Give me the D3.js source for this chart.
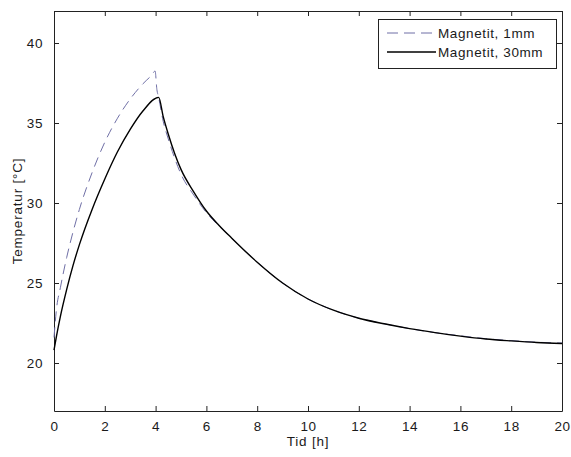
<!DOCTYPE html>
<html>
<head>
<meta charset="utf-8">
<script src="https://cdn.jsdelivr.net/npm/d3@7"></script>
<style>
  html, body { margin: 0; padding: 0; background: #fff; }
  svg { display: block; }
  text { font-family: "Liberation Sans", Arial, Helvetica, sans-serif; fill: #1a1a1a; }
</style>
</head>
<body>
<svg id="chart" width="571" height="457"></svg>
<script>
// Temperature over time for two magnetite samples
const seriesNames = ["Magnetit, 1mm", "Magnetit, 30mm"];

const time1mm = [0, 0.1, 0.25, 0.5, 0.75, 1.0, 1.5, 2.0, 2.5, 3.0, 3.5, 3.85, 3.98, 4.05, 4.12, 4.3, 4.5, 4.75, 5.0, 5.5, 6.0, 6.5, 7.0, 8.0, 9.0, 10.0, 11.0, 12.0, 13.0, 14.0, 15.0, 16.0, 17.0, 18.0, 19.0, 20.0];
const temp1mm = [21.6, 23.4, 24.7, 26.6, 28.2, 29.6, 31.9, 33.8, 35.3, 36.5, 37.45, 38.0, 38.25, 37.1, 36.6, 35.1, 34.0, 32.8, 31.8, 30.5, 29.4, 28.55, 27.8, 26.3, 25.0, 24.0, 23.3, 22.8, 22.45, 22.15, 21.9, 21.7, 21.52, 21.4, 21.3, 21.25];

const time30mm = [0, 0.1, 0.25, 0.5, 0.75, 1.0, 1.5, 2.0, 2.5, 3.0, 3.5, 4.12, 4.3, 4.5, 4.75, 5.0, 5.5, 6.0, 6.5, 7.0, 8.0, 9.0, 10.0, 11.0, 12.0, 13.0, 14.0, 15.0, 16.0, 17.0, 18.0, 19.0, 20.0];
const temp30mm = [20.8, 21.7, 22.9, 24.6, 26.1, 27.4, 29.6, 31.5, 33.2, 34.6, 35.75, 36.6, 35.4, 34.3, 33.1, 32.1, 30.7, 29.5, 28.6, 27.8, 26.3, 25.0, 24.0, 23.3, 22.8, 22.45, 22.15, 21.9, 21.68, 21.5, 21.38, 21.28, 21.22];

const xTicks = [0, 2, 4, 6, 8, 10, 12, 14, 16, 18, 20];
const yTicks = [20, 25, 30, 35, 40];

const margin = { left: 54, top: 11, right: 9, bottom: 46 };
const W = 571, H = 457;
const iw = W - margin.left - margin.right;
const ih = H - margin.top - margin.bottom;

const svg = d3.select("#chart");
const g = svg.append("g").attr("transform", `translate(${margin.left},${margin.top})`);

const x = d3.scaleLinear().domain([0, 20]).range([0, iw]);
const y = d3.scaleLinear().domain([17, 42]).range([ih, 0]);

const FONT = "13.5px";

// axes: ticks point inward, mirrored on top/right
const axisStyle = sel => {
  sel.select(".domain").attr("stroke", "#222");
  sel.selectAll(".tick line").attr("stroke", "#222");
  sel.selectAll(".tick text").style("font-size", FONT).style("letter-spacing", "0.6px").attr("fill", "#1a1a1a");
};

g.append("g").attr("transform", `translate(0,${ih})`)
  .call(d3.axisBottom(x).tickValues(xTicks).tickSizeInner(-5).tickSizeOuter(0).tickPadding(10).tickFormat(d3.format("d")))
  .call(axisStyle);
g.append("g")
  .call(d3.axisTop(x).tickValues(xTicks).tickSizeInner(-5).tickSizeOuter(0).tickFormat(""))
  .call(axisStyle);
g.append("g")
  .call(d3.axisLeft(y).tickValues(yTicks).tickSizeInner(-5).tickSizeOuter(0).tickPadding(11).tickFormat(d3.format("d")))
  .call(axisStyle);
g.append("g").attr("transform", `translate(${iw},0)`)
  .call(d3.axisRight(y).tickValues(yTicks).tickSizeInner(-5).tickSizeOuter(0).tickFormat(""))
  .call(axisStyle);

// curves
const line = d3.line().x(d => x(d[0])).y(d => y(d[1])).curve(d3.curveMonotoneX);
const data1 = time1mm.map((t, i) => [t, temp1mm[i]]);
const data30 = time30mm.map((t, i) => [t, temp30mm[i]]);

const dashColor = "#6f6fa6";
g.append("path").datum(data1)
  .attr("fill", "none").attr("stroke", dashColor).attr("stroke-width", 1)
  .attr("stroke-dasharray", "10,6").attr("d", line);
g.append("path").datum(data30)
  .attr("fill", "none").attr("stroke", "#000").attr("stroke-width", 1.4)
  .attr("d", line);

// labels
svg.append("text")
  .attr("x", margin.left + iw / 2).attr("y", 446)
  .attr("text-anchor", "middle")
  .style("font-size", FONT).style("letter-spacing", "0.8px")
  .text("Tid [h]");
svg.append("text")
  .attr("transform", `translate(22,${margin.top + ih / 2}) rotate(-90)`)
  .attr("text-anchor", "middle")
  .style("font-size", FONT).style("letter-spacing", "0.8px")
  .text("Temperatur [°C]");

// legend
const lg = svg.append("g");
lg.append("rect").attr("x", 378.5).attr("y", 19.5).attr("width", 178).attr("height", 49)
  .attr("fill", "#fff").attr("stroke", "#222").attr("stroke-width", 1);
const rows = [
  { name: seriesNames[0], color: dashColor, dash: "11,6", w: 1, yy: 33 },
  { name: seriesNames[1], color: "#000", dash: null, w: 1.4, yy: 52 }
];
rows.forEach(r => {
  lg.append("line").attr("x1", 387).attr("x2", 436).attr("y1", r.yy).attr("y2", r.yy)
    .attr("stroke", r.color).attr("stroke-width", r.w).attr("stroke-dasharray", r.dash);
  lg.append("text").attr("x", 438).attr("y", r.yy + 5)
    .style("font-size", FONT).style("letter-spacing", "0.6px")
    .text(r.name);
});
</script>
</body>
</html>
